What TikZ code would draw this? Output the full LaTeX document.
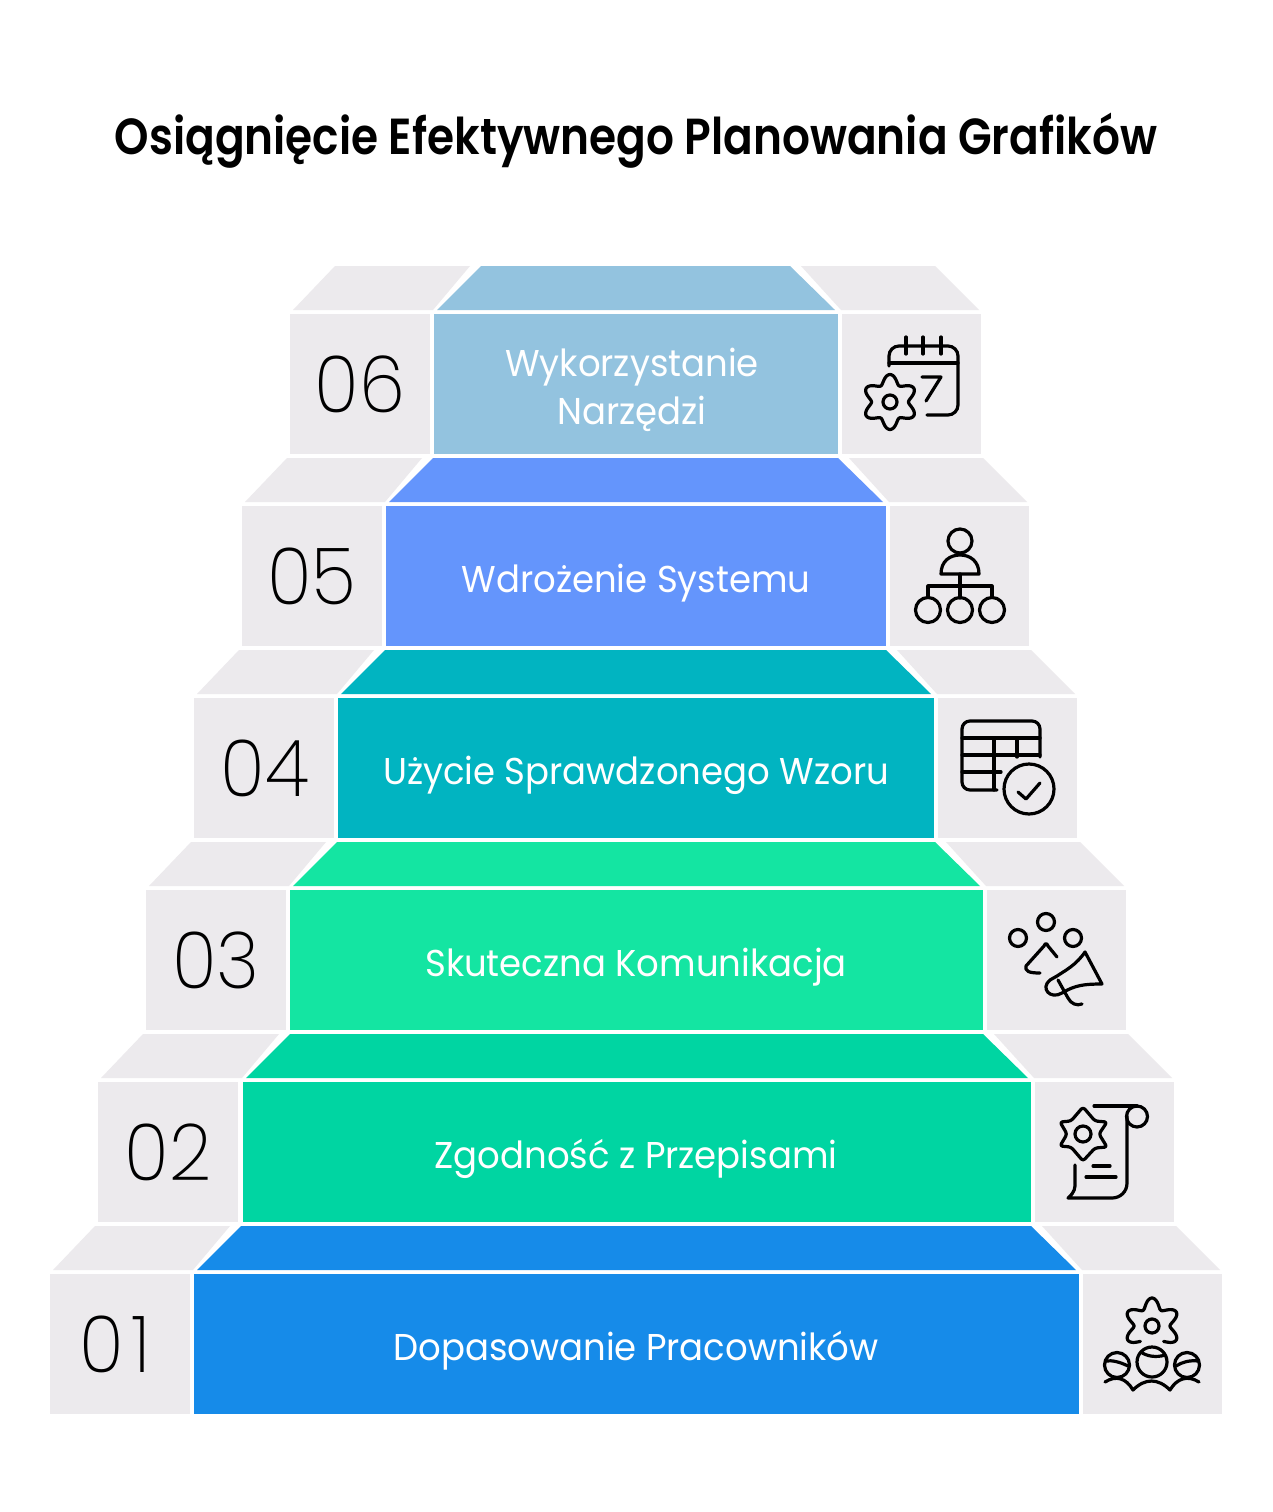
\documentclass[tikz,border=0pt]{standalone}
\usepackage{fontspec}
\newfontfamily\titlef[FakeStretch=0.865]{Poppins SemiBold}
\newfontfamily\labelf[FakeStretch=0.95]{Poppins}
\newfontfamily\numf[FakeStretch=0.94]{Poppins ExtraLight}
\definecolor{greyb}{HTML}{ECEAED}
\definecolor{r1}{HTML}{168BE9}
\definecolor{r2}{HTML}{00D5A2}
\definecolor{r3}{HTML}{14E5A2}
\definecolor{r4}{HTML}{01B4C1}
\definecolor{r5}{HTML}{6495FC}
\definecolor{r6}{HTML}{93C3DF}
\tikzset{
  ink/.style={draw=black,line width=2.4pt,line cap=round,line join=round,rounded corners=0pt},
  lbl/.style={anchor=base,text=white,font=\labelf\fontsize{28}{28}\selectfont,inner sep=0pt},
  num/.style={anchor=base,text=black,font=\numf\fontsize{59}{59}\selectfont,inner sep=0pt},
}
\newcommand{\gearat}[5]{% cx cy base amp start..end
  \draw[ink,smooth] plot[domain=#5,samples=120] ({#1+(#3+#4*cos(6*\x-540))*cos(\x)},{#2-(#3+#4*cos(6*\x-540))*sin(\x)});
}
\begin{document}
\begin{tikzpicture}[x=0.75pt,y=-0.75pt]
\useasboundingbox (0,0) rectangle (1272,1512);
\fill[white] (0,0) rectangle (1272,1512);
\foreach \n/\T/\a/\b/\c/\col in {1/1274/50/194/1079/r1,2/1082/98/243/1031/r2,3/890/146/290/983/r3,4/698/194/338/934/r4,5/506/242/386/886/r5,6/314/290/434/838/r6}{
  \fill[greyb] (\a,\T) rectangle (\a+140,\T+140);
  \fill[greyb] (\c+4,\T) rectangle (\c+143,\T+140);
  \fill[\col] (\b,\T) rectangle (\c,\T+140);
  \fill[\col] (\b+3,\T-4) -- (\b+47,\T-48) -- (\c-48,\T-48) -- (\c-3,\T-4) -- cycle;
  \fill[greyb] (\a+3,\T-4) -- (\a+45,\T-48) -- (\b+36,\T-48) -- (\b-1,\T-4) -- cycle;
  \fill[greyb] (\c+3,\T-4) -- (\c-37,\T-48) -- (\c+97,\T-48) -- (\c+141,\T-4) -- cycle;
}
\node[anchor=base,font=\titlef\fontsize{38}{38}\selectfont,inner sep=0pt] (title) at (636,155) {Osiągnięcie Efektywnego Planowania Grafików};
\node[num] (n1) at (115,1372) {0\kern5pt 1};
\node[num] (n2) at (168,1180) {02};
\node[num] (n3) at (216,988) {03};
\node[num] (n4) at (265,796) {04};
\node[num] (n5) at (312,604) {05};
\node[num] (n6) at (360,412) {06};
\node[lbl] (t1) at (636,1360) {Dopasowanie Pracowników};
\node[lbl] (t2) at (636,1168) {Zgodność z Przepisami};
\node[lbl] (t3) at (636,976) {Skuteczna Komunikacja};
\node[lbl] (t4) at (636,784) {Użycie Sprawdzonego Wzoru};
\node[lbl] (t5) at (636,592) {Wdrożenie Systemu};
\node[lbl] (t6a) at (632,376) {Wykorzystanie};
\node[lbl] (t6b) at (632,424) {Narzędzi};
% calendar + gear
\draw[ink] (889,366) -- (889,356) arc[start angle=180,end angle=270,radius=10] -- (948,346) arc[start angle=270,end angle=360,radius=10] -- (958,405) arc[start angle=0,end angle=90,radius=10] -- (927,415);
\draw[ink] (889,363) -- (958,363);
\foreach \x in {906,923,941} \draw[ink] (\x,337) -- (\x,354);
\draw[ink] (922,377) -- (941,377) -- (926,401);
\gearat{890}{402}{23}{4.5}{90:450}
\draw[ink] (890,402) circle[radius=7];
% org chart
\draw[ink] (960,541) circle[radius=12];
\draw[ink] (941,574) .. controls (941,561) and (950,555) .. (960,555) .. controls (970,555) and (979,561) .. (979,574) -- cycle;
\draw[ink] (960,574) -- (960,598);
\draw[ink] (928,597) -- (928,586) -- (992,586) -- (992,597);
\foreach \x in {928,960,992} \draw[ink] (\x,610) circle[radius=12.5];
% table
\draw[ink] (997,790) -- (970,790) arc[start angle=90,end angle=180,radius=8] -- (962,729) arc[start angle=180,end angle=270,radius=8] -- (1032,721) arc[start angle=270,end angle=360,radius=8] -- (1040,757);
\draw[ink] (962,738) -- (1040,738);
\draw[ink] (962,755) -- (1040,755);
\draw[ink] (962,772) -- (1001,772);
\draw[ink] (994,738) -- (994,790);
\draw[ink] (1017,738) -- (1017,757);
\draw[ink] (1029,789) circle[radius=25];
\draw[ink] (1018,792) -- (1026,799) -- (1040,783);
% communication
\draw[ink] (1018,938) circle[radius=8.5];
\draw[ink] (1046,922) circle[radius=8.5];
\draw[ink] (1073,938) circle[radius=8.5];
\draw[ink] (1057,957) -- (1048,946) .. controls (1047,943) and (1045,943) .. (1044,946) -- (1026,966) .. controls (1025,971) and (1028,973) .. (1040,973);
\draw[ink] (1085,952) .. controls (1076,965) and (1066,970) .. (1057,976) -- (1050,980) .. controls (1040,988) and (1050,1000) .. (1062,993) .. controls (1075,985) and (1085,984) .. (1102,984) -- cycle;
\draw[ink] (1058,980) -- (1068,998) .. controls (1071,1004) and (1077,1006) .. (1082,1004);
% scroll + star
\draw[ink,rounded corners=2pt] (1083,1107) -- (1095,1121) -- (1107,1122) -- (1099,1134) -- (1107,1147) -- (1095,1148) -- (1083,1161) -- (1071,1147) -- (1060,1146) -- (1067,1134) -- (1060,1122) -- (1071,1121) -- cycle;
\draw[ink] (1083,1134) circle[radius=8];
\draw[ink] (1094,1106) -- (1137,1106);
\draw[ink] (1137,1116.5) circle[radius=10.5];
\draw[ink] (1127,1116) -- (1127,1183) .. controls (1127,1192) and (1120,1198) .. (1112,1198) -- (1068,1198) .. controls (1075,1192) and (1075,1188) .. (1075,1183) -- (1075,1165);
\draw[ink] (1093,1166) -- (1110,1166);
\draw[ink] (1086,1177) -- (1116,1177);
% gear + people
\gearat{1152}{1326}{23}{5}{307:593}
\draw[ink] (1152,1326) circle[radius=7];
\draw[ink] (1117,1365) circle[radius=12.5];
\draw[ink] (1152,1362) circle[radius=15];
\draw[ink] (1187,1365) circle[radius=12.5];
\draw[ink] (1106,1361) .. controls (1112,1360) and (1120,1362) .. (1128,1366);
\draw[ink] (1141,1352) .. controls (1146,1356) and (1156,1358) .. (1165,1355);
\draw[ink] (1176,1366) .. controls (1182,1362) and (1190,1360) .. (1198,1361);
\draw[ink] (1105,1382) .. controls (1116,1375) and (1126,1378) .. (1133,1390) .. controls (1145,1378) and (1158,1378) .. (1170,1390) .. controls (1177,1378) and (1188,1375) .. (1199,1382);
\end{tikzpicture}
\end{document}
